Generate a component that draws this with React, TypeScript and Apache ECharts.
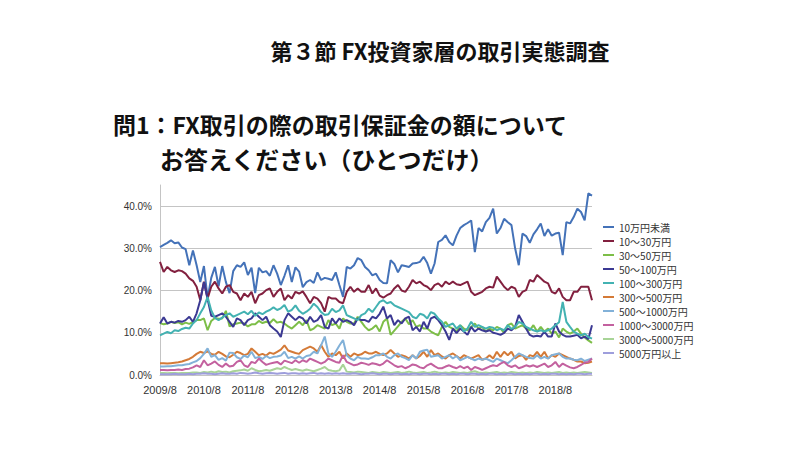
import React, { useEffect, useRef } from "react";
import * as echarts from "echarts";

const months: string[] = [];
for (let k = 0; k < 119; k++) {
  const m = 7 + k;
  months.push(`${2009 + Math.floor(m / 12)}/${(m % 12) + 1}`);
}

const seriesNames = [
  "10万円未満", "10〜30万円", "30〜50万円", "50〜100万円", "100〜300万円",
  "300〜500万円", "500〜1000万円", "1000〜3000万円", "3000〜5000万円", "5000万円以上",
];
const seriesColors = [
  "#4472B8", "#82203F", "#7DBE48", "#3B3993", "#43B2B2",
  "#D47A37", "#82B1D8", "#C3619F", "#A8D497", "#9E9EDC",
];

const s10 = [30.3,30.8,31.3,31.9,31.2,31.4,30.2,29.8,26.0,29.5,
 26.0,22.0,25.8,18.2,23.0,25.6,21.0,25.8,22.0,19.4,
 24.6,26.0,25.6,26.7,23.7,25.4,19.4,25.4,24.3,24.6,
 23.5,26.0,24.0,21.3,23.5,26.0,22.0,25.5,24.5,20.8,
 22.0,22.5,21.8,24.3,22.5,23.0,22.8,22.5,24.3,21.3,
 18.5,25.6,25.2,26.0,27.7,27.2,25.6,24.8,23.6,24.0,
 22.5,21.8,21.7,27.2,26.3,24.3,26.0,25.8,25.6,26.4,
 26.5,26.8,28.0,26.5,24.0,26.4,31.5,32.0,33.1,31.5,
 30.7,33.0,34.8,35.5,36.0,36.6,29.1,34.8,34.0,36.2,
 37.2,39.4,33.5,34.8,37.0,36.2,35.5,30.0,26.0,33.5,
 32.9,31.3,33.3,34.5,35.9,32.9,34.5,33.0,33.5,33.7,
 28.4,36.2,35.9,37.4,39.4,38.6,36.6,43.0,42.5];
const s10_30 = [26.8,24.4,25.6,24.8,24.4,24.8,24.6,24.0,22.9,22.3,
 20.9,17.7,22.1,18.1,20.9,22.1,20.5,19.3,20.9,21.3,
 19.7,19.3,17.7,19.3,18.5,19.7,17.0,18.9,19.3,20.1,
 20.5,18.5,19.7,20.5,17.7,18.9,18.1,19.7,19.3,19.8,
 18.5,17.0,18.5,18.1,17.0,15.0,18.5,18.1,18.1,17.3,
 17.0,19.7,20.9,19.7,20.5,19.7,19.7,21.3,19.3,20.5,
 18.8,18.3,18.9,19.3,20.5,21.3,20.0,19.7,20.9,22.5,
 21.7,22.1,21.3,20.9,20.1,21.3,21.7,20.9,22.1,21.5,
 22.1,21.5,21.3,21.7,22.1,19.7,18.9,19.3,19.7,20.5,
 20.9,20.7,23.3,22.1,20.9,20.1,20.9,20.5,18.5,19.7,
 20.1,22.5,22.1,23.7,22.9,22.1,21.7,19.7,19.3,20.5,
 18.5,17.7,17.7,19.7,19.7,20.9,20.9,20.9,17.7];
const s30_50 = [12.3,12.0,12.2,12.6,12.3,12.5,12.0,12.4,12.1,12.5,
 13.0,13.0,13.4,10.6,12.8,13.5,13.3,13.4,15.2,11.5,
 12.0,12.2,12.4,12.2,11.5,12.0,12.0,12.8,12.3,12.6,
 12.3,13.2,12.4,12.6,12.2,11.5,11.0,11.8,12.6,11.8,
 13.0,10.6,11.0,11.8,11.4,11.0,13.0,11.8,12.2,11.0,
 13.4,12.6,12.2,12.2,13.8,12.6,11.4,10.6,11.0,11.8,
 10.3,12.6,13.4,9.5,10.5,11.5,12.6,13.4,12.0,13.0,
 11.4,11.8,11.0,11.0,10.3,9.8,9.4,11.4,12.6,11.4,
 11.0,10.3,11.8,11.0,10.6,11.4,12.2,11.0,11.4,10.3,
 11.0,10.6,11.4,11.0,10.0,11.8,12.2,11.0,11.4,11.8,
 11.0,10.6,11.8,10.3,11.4,10.3,11.0,9.8,10.3,8.9,
 11.0,10.3,9.8,10.3,11.0,9.8,8.9,8.2,7.6];
const s50_100 = [12.2,13.7,12.2,12.6,12.4,12.8,12.6,13.0,13.8,12.6,
 14.6,17.7,22.0,18.0,14.0,13.8,14.2,14.6,13.8,12.6,
 11.4,13.4,13.0,11.8,13.0,13.4,14.6,13.8,13.0,13.8,
 11.8,11.0,10.3,9.0,13.0,14.6,13.8,13.0,13.8,13.4,
 12.2,13.8,12.6,13.0,14.2,11.4,11.0,13.4,12.2,13.4,
 12.6,13.0,12.6,11.8,13.4,13.0,13.0,12.6,13.8,13.4,
 14.5,16.2,13.4,14.2,11.8,13.0,12.2,13.4,13.8,10.6,
 11.4,10.3,12.6,11.0,13.4,13.8,13.0,11.8,10.3,8.3,
 11.0,9.9,11.0,10.3,9.5,11.4,10.3,11.0,10.6,10.3,
 10.6,10.0,9.8,9.5,10.0,11.0,10.6,11.4,14.2,12.6,
 11.0,9.5,9.1,9.3,9.1,10.3,9.1,9.1,12.2,10.3,
 9.5,9.1,9.1,9.3,9.5,8.7,9.1,8.5,11.8];
const s100_300 = [9.4,9.8,10.2,9.9,10.6,10.4,10.9,11.2,11.0,12.2,
 13.0,14.6,16.1,18.5,15.3,13.5,13.0,13.6,14.2,14.6,
 13.8,14.2,14.6,15.0,14.4,15.2,14.0,14.8,14.4,15.0,
 15.4,16.0,15.4,15.8,16.6,15.0,15.4,16.5,15.2,14.5,
 15.0,15.7,16.9,16.1,14.9,14.2,14.4,15.7,14.9,15.3,
 16.5,14.2,13.8,13.4,13.0,14.2,14.6,15.7,14.9,16.1,
 17.3,17.7,17.0,17.3,16.5,16.1,15.7,15.3,14.9,13.8,
 13.4,14.5,14.2,13.4,14.9,14.5,13.4,12.6,11.4,11.8,
 12.2,11.0,11.8,10.3,11.0,12.6,11.4,11.8,11.4,11.0,
 11.4,11.2,10.6,11.0,10.6,11.8,10.9,11.4,12.6,12.2,
 11.4,11.0,10.6,10.3,10.6,10.3,10.6,11.0,11.8,12.5,
 17.3,12.6,11.4,10.3,9.8,9.4,9.8,9.0,8.6];
const s300_500 = [2.8,2.8,2.7,2.8,2.9,3.0,3.2,3.5,3.8,4.3,
 5.0,5.5,5.2,5.6,5.0,4.8,5.5,5.0,4.4,4.2,
 4.8,5.5,5.2,4.7,5.0,6.3,5.5,4.7,5.0,4.6,
 5.3,5.0,5.5,6.0,7.0,5.8,5.5,5.2,5.0,5.9,
 6.3,6.7,6.3,5.5,7.1,5.5,4.3,5.1,4.7,5.5,
 3.9,5.1,4.3,5.1,4.7,4.9,5.5,5.1,5.1,5.5,
 5.0,4.7,5.1,5.9,5.1,4.3,4.7,4.4,3.9,4.7,
 3.9,4.5,5.5,4.3,5.9,4.7,5.1,4.4,3.9,4.7,
 5.1,4.5,3.9,4.7,4.3,3.9,4.3,4.7,3.6,3.9,
 4.7,3.9,5.5,4.3,5.5,4.7,5.5,3.9,4.5,4.7,
 3.6,4.7,4.4,5.5,4.3,5.5,3.9,4.7,4.3,5.1,
 4.7,4.3,3.9,3.6,3.2,3.2,2.8,2.9,3.2];
const s500_1000 = [2.0,2.0,2.1,2.1,2.2,2.3,2.3,2.5,2.6,3.0,
 3.3,4.0,5.0,6.3,4.3,4.7,3.6,4.0,3.4,5.3,
 5.2,4.2,3.8,4.6,4.2,5.5,4.0,4.3,3.8,4.5,
 4.0,4.3,4.4,4.6,5.5,4.0,4.3,3.9,4.4,3.9,
 4.5,4.7,5.5,5.1,7.0,9.1,5.1,4.3,5.5,7.0,
 8.3,4.7,3.9,3.5,4.3,3.9,3.9,3.8,4.2,4.7,
 4.7,5.1,4.3,3.9,4.7,5.1,4.3,4.0,3.5,4.7,
 3.9,5.5,5.8,6.0,4.3,4.5,4.7,3.9,4.3,4.7,
 3.9,4.5,3.5,3.9,4.3,3.9,3.5,3.9,3.6,3.9,
 3.5,3.1,3.9,3.5,3.1,2.8,3.5,4.3,5.1,4.7,
 4.3,4.0,3.9,4.7,3.9,4.3,3.9,4.7,4.9,5.1,
 4.3,3.9,3.9,3.6,3.5,3.9,3.3,3.6,3.9];
const s1000_3000 = [1.2,1.2,1.1,1.2,1.2,1.3,1.2,1.4,1.5,1.8,
 2.3,1.9,3.5,2.3,2.7,3.2,2.4,1.9,2.7,2.0,
 2.2,3.1,3.5,2.3,1.9,3.1,2.8,3.9,3.1,2.4,
 2.7,2.9,3.1,2.5,3.4,3.1,2.8,3.5,2.9,3.5,
 3.1,3.9,3.5,3.1,2.7,3.1,3.9,3.5,3.1,2.9,
 4.7,3.1,2.7,2.3,2.5,2.9,2.7,2.4,2.8,2.6,
 2.3,2.7,3.5,2.9,2.3,1.9,2.1,1.6,2.0,2.5,
 2.3,1.8,1.6,2.3,2.7,2.1,1.6,1.6,2.0,2.3,
 1.9,1.6,2.1,1.6,2.0,1.2,1.9,1.6,1.2,1.6,
 2.0,2.3,2.1,2.7,3.1,2.3,1.9,2.3,1.6,1.9,
 2.3,2.0,2.3,1.9,2.3,2.7,1.9,2.3,3.1,1.9,
 2.7,2.2,1.8,1.6,1.9,2.4,2.9,3.1,3.9];
const s3000_5000 = [0.5,0.5,0.4,0.5,0.5,0.4,0.5,0.5,0.5,0.6,
 0.6,0.5,0.7,0.6,0.8,0.6,0.9,0.7,0.8,0.6,
 0.9,1.0,1.1,1.3,1.0,1.6,1.2,0.9,1.0,1.2,
 1.0,1.3,1.6,1.4,1.9,1.5,1.2,1.4,1.2,1.0,
 1.3,1.1,0.9,1.2,1.5,1.9,1.2,1.0,0.9,1.1,
 2.5,0.8,0.7,0.6,0.8,0.7,0.6,0.5,0.7,0.6,
 0.5,0.7,0.6,0.5,0.6,0.7,0.5,0.6,0.8,0.6,
 0.5,0.6,0.7,0.5,0.6,0.8,0.6,0.5,0.6,0.5,
 0.7,0.6,0.5,0.6,0.5,0.7,0.9,0.6,0.5,0.6,
 0.5,0.6,0.7,0.5,0.6,0.5,0.7,0.6,0.5,0.6,
 0.5,0.6,0.5,0.7,0.6,0.5,0.6,0.5,0.6,0.7,
 0.5,0.6,0.5,0.6,0.5,0.6,0.7,0.6,0.5];
const s5000 = [0.2,0.2,0.2,0.2,0.3,0.2,0.2,0.2,0.3,0.2,
 0.3,0.3,0.4,0.3,0.3,0.2,0.3,0.4,0.3,0.3,
 0.4,0.3,0.5,0.4,0.3,0.4,0.6,0.4,0.3,0.4,
 0.5,0.4,0.3,0.4,0.5,0.3,0.4,0.4,0.3,0.4,
 0.3,0.4,0.5,0.3,0.4,0.3,0.4,0.3,0.4,0.3,
 0.4,0.3,0.3,0.4,0.3,0.2,0.3,0.3,0.4,0.3,
 0.2,0.3,0.3,0.2,0.3,0.3,0.2,0.3,0.2,0.3,
 0.3,0.2,0.3,0.3,0.2,0.3,0.2,0.3,0.3,0.2,
 0.3,0.2,0.3,0.3,0.2,0.3,0.3,0.2,0.3,0.2,
 0.3,0.3,0.2,0.3,0.2,0.3,0.3,0.2,0.3,0.2,
 0.3,0.2,0.3,0.3,0.2,0.3,0.2,0.3,0.3,0.2,
 0.3,0.2,0.3,0.2,0.3,0.3,0.2,0.3,0.3];

const seriesData = [s10, s10_30, s30_50, s50_100, s100_300, s300_500, s500_1000, s1000_3000, s3000_5000, s5000];

const sectionTitle = "第３節 FX投資家層の取引実態調査";
const questionLine1 = "問1：FX取引の際の取引保証金の額について";
const questionLine2 = "お答えください（ひとつだけ）";

const JP = "'Noto Sans CJK JP', 'Noto Sans', sans-serif";

export default function App() {
  const ref = useRef<HTMLDivElement>(null);
  useEffect(() => {
    if (!ref.current) return;
    const chart = echarts.init(ref.current, undefined, { renderer: "svg" });
    const grid = "#C4C4C4";
    chart.setOption({
      animation: false,
      backgroundColor: "#ffffff",
      textStyle: { fontFamily: JP },
      graphic: [
        {
          type: "text", x: 440, y: 50,
          style: { text: sectionTitle, font: `bold 22px ${JP}`, fill: "#111", textAlign: "center", textVerticalAlign: "middle", lineHeight: 22 },
        },
        {
          type: "text", x: 113, y: 124,
          style: { text: questionLine1, font: `bold 23px ${JP}`, fill: "#111", textAlign: "left", textVerticalAlign: "middle", lineHeight: 23 },
        },
        {
          type: "text", x: 160, y: 158,
          style: { text: questionLine2, font: `bold 24px ${JP}`, fill: "#111", textAlign: "left", textVerticalAlign: "middle", lineHeight: 24 },
        },
      ],
      grid: { left: 160, right: 208, top: 185, bottom: 75, containLabel: false },
      legend: {
        orient: "vertical", left: 603, top: 221, padding: 0,
        icon: "rect", itemWidth: 11, itemHeight: 2, itemGap: 2,
        textStyle: { fontSize: 10, color: "#333", lineHeight: 12, fontFamily: JP },
        data: seriesNames,
      },
      xAxis: {
        type: "category", data: months, boundaryGap: false,
        axisLine: { lineStyle: { color: grid } },
        axisTick: { show: false },
        axisLabel: { interval: 11, fontSize: 11, color: "#333", margin: 9, fontFamily: "'Liberation Sans', Arial, sans-serif" },
        splitLine: { show: false },
      },
      yAxis: {
        type: "value", min: 0, max: 45, interval: 10,
        axisLine: { show: true, lineStyle: { color: grid } },
        axisTick: { show: false },
        axisLabel: {
          formatter: (v: number) => v.toFixed(1) + "%", showMaxLabel: false,
          fontSize: 10, color: "#333", margin: 8, fontFamily: "'Liberation Sans', Arial, sans-serif",
        },
        splitLine: {
          show: true, showMaxLine: false,
          lineStyle: { color: [grid, grid, grid, grid, grid, "rgba(0,0,0,0)"], width: 1 },
        },
      },
      series: seriesNames.map((name, idx) => ({
        name, type: "line", data: seriesData[idx], showSymbol: false, symbol: "none",
        color: seriesColors[idx],
        lineStyle: { width: 2, color: seriesColors[idx] },
      })),
    });
    return () => chart.dispose();
  }, []);
  return (
    <div
      ref={ref}
      style={{ position: "absolute", left: 0, top: 0, width: 800, height: 450, background: "#fff" }}
    />
  );
}
